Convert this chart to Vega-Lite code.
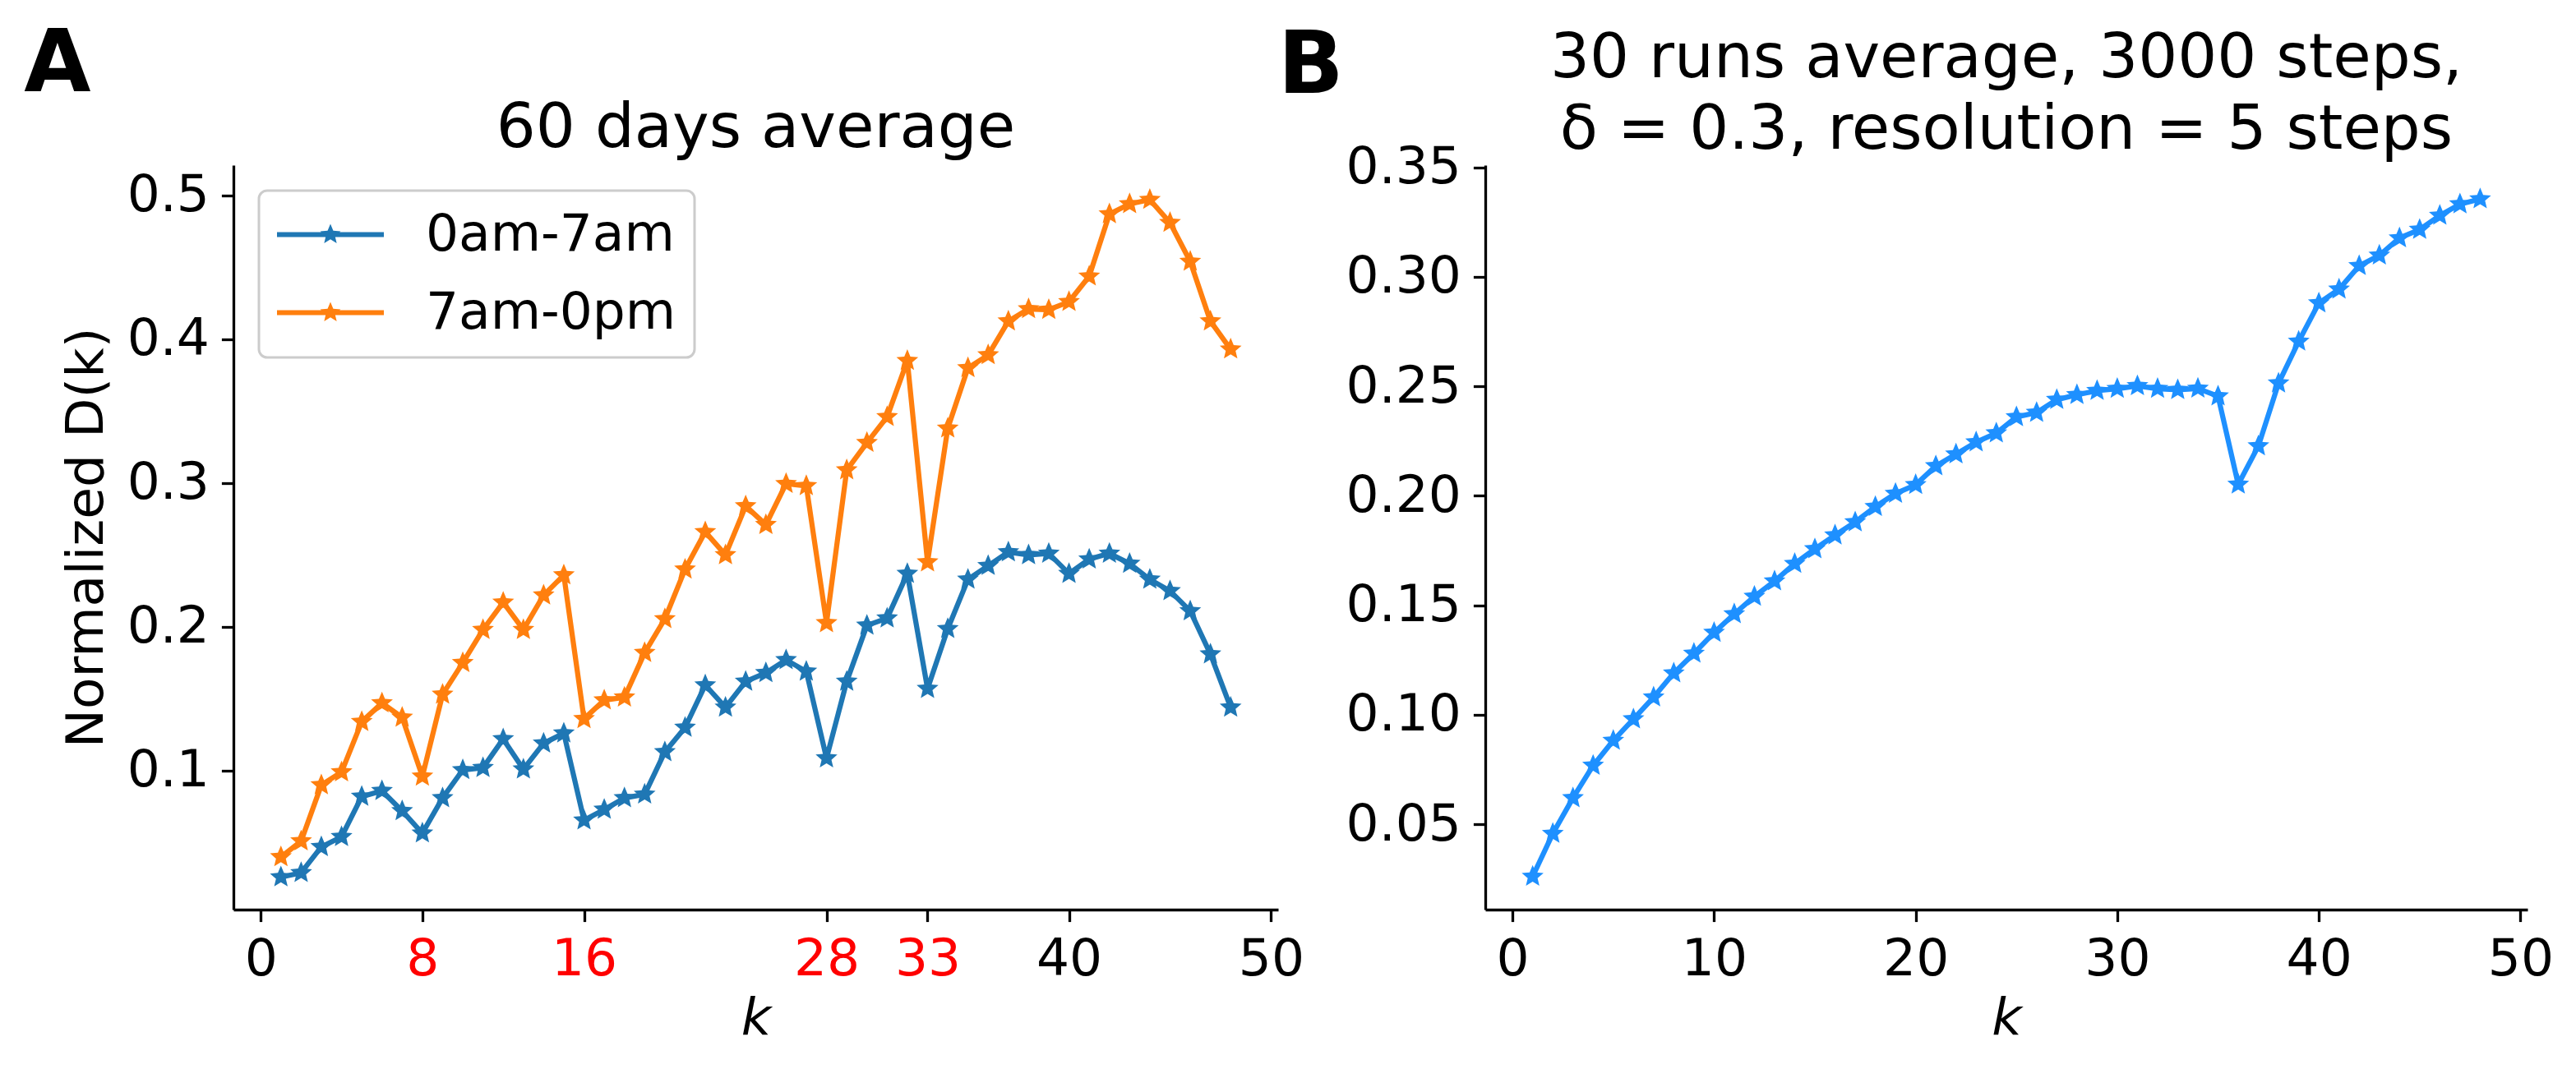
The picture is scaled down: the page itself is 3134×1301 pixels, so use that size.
{
  "$schema": "https://vega.github.io/schema/vega-lite/v6.json",
  "background": "white",
  "autosize": {"type": "pad"},
  "padding": {"left": 29, "top": 26, "right": 5, "bottom": 5},
  "spacing": -33,
  "config": {
    "font": "DejaVu Sans",
    "view": {"stroke": null},
    "title": {"font": "DejaVu Sans", "color": "black", "fontWeight": "normal"},
    "axis": {
      "grid": false,
      "domainColor": "black",
      "domainWidth": 3.3,
      "tickColor": "black",
      "tickWidth": 3.3,
      "tickSize": 14.6,
      "labelFont": "DejaVu Sans",
      "labelFontSize": 63,
      "labelColor": "black",
      "titleFont": "DejaVu Sans",
      "titleFontSize": 63,
      "titleFontWeight": "normal",
      "titleColor": "black",
      "labelFlush": false,
      "labelOverlap": false
    },
    "axisX": {"labelPadding": 14.5, "titlePadding": 9},
    "axisY": {"labelPadding": 15, "titlePadding": 17},
    "legend": {"strokeWidth": 3}
  },
  "datasets": {
    "left": [
      {"k": 1, "D": 0.026, "series": "0am-7am"}, {"k": 2, "D": 0.029, "series": "0am-7am"}, {"k": 3, "D": 0.047, "series": "0am-7am"}, {"k": 4, "D": 0.054, "series": "0am-7am"},
      {"k": 5, "D": 0.082, "series": "0am-7am"}, {"k": 6, "D": 0.086, "series": "0am-7am"}, {"k": 7, "D": 0.072, "series": "0am-7am"}, {"k": 8, "D": 0.0565, "series": "0am-7am"},
      {"k": 9, "D": 0.081, "series": "0am-7am"}, {"k": 10, "D": 0.1005, "series": "0am-7am"}, {"k": 11, "D": 0.102, "series": "0am-7am"}, {"k": 12, "D": 0.122, "series": "0am-7am"},
      {"k": 13, "D": 0.101, "series": "0am-7am"}, {"k": 14, "D": 0.119, "series": "0am-7am"}, {"k": 15, "D": 0.126, "series": "0am-7am"}, {"k": 16, "D": 0.0655, "series": "0am-7am"},
      {"k": 17, "D": 0.073, "series": "0am-7am"}, {"k": 18, "D": 0.081, "series": "0am-7am"}, {"k": 19, "D": 0.0835, "series": "0am-7am"}, {"k": 20, "D": 0.113, "series": "0am-7am"},
      {"k": 21, "D": 0.130, "series": "0am-7am"}, {"k": 22, "D": 0.1595, "series": "0am-7am"}, {"k": 23, "D": 0.144, "series": "0am-7am"}, {"k": 24, "D": 0.162, "series": "0am-7am"},
      {"k": 25, "D": 0.168, "series": "0am-7am"}, {"k": 26, "D": 0.177, "series": "0am-7am"}, {"k": 27, "D": 0.169, "series": "0am-7am"}, {"k": 28, "D": 0.1087, "series": "0am-7am"},
      {"k": 29, "D": 0.162, "series": "0am-7am"}, {"k": 30, "D": 0.201, "series": "0am-7am"}, {"k": 31, "D": 0.206, "series": "0am-7am"}, {"k": 32, "D": 0.237, "series": "0am-7am"},
      {"k": 33, "D": 0.157, "series": "0am-7am"}, {"k": 34, "D": 0.1986, "series": "0am-7am"}, {"k": 35, "D": 0.233, "series": "0am-7am"}, {"k": 36, "D": 0.2425, "series": "0am-7am"},
      {"k": 37, "D": 0.252, "series": "0am-7am"}, {"k": 38, "D": 0.250, "series": "0am-7am"}, {"k": 39, "D": 0.251, "series": "0am-7am"}, {"k": 40, "D": 0.237, "series": "0am-7am"},
      {"k": 41, "D": 0.247, "series": "0am-7am"}, {"k": 42, "D": 0.251, "series": "0am-7am"}, {"k": 43, "D": 0.244, "series": "0am-7am"}, {"k": 44, "D": 0.233, "series": "0am-7am"},
      {"k": 45, "D": 0.225, "series": "0am-7am"}, {"k": 46, "D": 0.211, "series": "0am-7am"}, {"k": 47, "D": 0.181, "series": "0am-7am"}, {"k": 48, "D": 0.144, "series": "0am-7am"},
      {"k": 1, "D": 0.040, "series": "7am-0pm"}, {"k": 2, "D": 0.051, "series": "7am-0pm"}, {"k": 3, "D": 0.090, "series": "7am-0pm"}, {"k": 4, "D": 0.099, "series": "7am-0pm"},
      {"k": 5, "D": 0.134, "series": "7am-0pm"}, {"k": 6, "D": 0.147, "series": "7am-0pm"}, {"k": 7, "D": 0.137, "series": "7am-0pm"}, {"k": 8, "D": 0.096, "series": "7am-0pm"},
      {"k": 9, "D": 0.153, "series": "7am-0pm"}, {"k": 10, "D": 0.175, "series": "7am-0pm"}, {"k": 11, "D": 0.198, "series": "7am-0pm"}, {"k": 12, "D": 0.217, "series": "7am-0pm"},
      {"k": 13, "D": 0.198, "series": "7am-0pm"}, {"k": 14, "D": 0.222, "series": "7am-0pm"}, {"k": 15, "D": 0.236, "series": "7am-0pm"}, {"k": 16, "D": 0.136, "series": "7am-0pm"},
      {"k": 17, "D": 0.149, "series": "7am-0pm"}, {"k": 18, "D": 0.151, "series": "7am-0pm"}, {"k": 19, "D": 0.182, "series": "7am-0pm"}, {"k": 20, "D": 0.2055, "series": "7am-0pm"},
      {"k": 21, "D": 0.240, "series": "7am-0pm"}, {"k": 22, "D": 0.266, "series": "7am-0pm"}, {"k": 23, "D": 0.250, "series": "7am-0pm"}, {"k": 24, "D": 0.284, "series": "7am-0pm"},
      {"k": 25, "D": 0.271, "series": "7am-0pm"}, {"k": 26, "D": 0.2995, "series": "7am-0pm"}, {"k": 27, "D": 0.298, "series": "7am-0pm"}, {"k": 28, "D": 0.2027, "series": "7am-0pm"},
      {"k": 29, "D": 0.309, "series": "7am-0pm"}, {"k": 30, "D": 0.328, "series": "7am-0pm"}, {"k": 31, "D": 0.346, "series": "7am-0pm"}, {"k": 32, "D": 0.385, "series": "7am-0pm"},
      {"k": 33, "D": 0.245, "series": "7am-0pm"}, {"k": 34, "D": 0.338, "series": "7am-0pm"}, {"k": 35, "D": 0.380, "series": "7am-0pm"}, {"k": 36, "D": 0.389, "series": "7am-0pm"},
      {"k": 37, "D": 0.4125, "series": "7am-0pm"}, {"k": 38, "D": 0.421, "series": "7am-0pm"}, {"k": 39, "D": 0.4205, "series": "7am-0pm"}, {"k": 40, "D": 0.426, "series": "7am-0pm"},
      {"k": 41, "D": 0.4437, "series": "7am-0pm"}, {"k": 42, "D": 0.487, "series": "7am-0pm"}, {"k": 43, "D": 0.494, "series": "7am-0pm"}, {"k": 44, "D": 0.497, "series": "7am-0pm"},
      {"k": 45, "D": 0.481, "series": "7am-0pm"}, {"k": 46, "D": 0.454, "series": "7am-0pm"}, {"k": 47, "D": 0.4125, "series": "7am-0pm"}, {"k": 48, "D": 0.393, "series": "7am-0pm"}
    ],
    "right": [
      {"k": 1, "D": 0.0261}, {"k": 2, "D": 0.0457}, {"k": 3, "D": 0.062}, {"k": 4, "D": 0.0768}, {"k": 5, "D": 0.0882}, {"k": 6, "D": 0.098},
      {"k": 7, "D": 0.108}, {"k": 8, "D": 0.119}, {"k": 9, "D": 0.128}, {"k": 10, "D": 0.1375}, {"k": 11, "D": 0.146}, {"k": 12, "D": 0.154},
      {"k": 13, "D": 0.161}, {"k": 14, "D": 0.169}, {"k": 15, "D": 0.1757}, {"k": 16, "D": 0.182}, {"k": 17, "D": 0.188}, {"k": 18, "D": 0.195},
      {"k": 19, "D": 0.201}, {"k": 20, "D": 0.205}, {"k": 21, "D": 0.2136}, {"k": 22, "D": 0.219}, {"k": 23, "D": 0.2245}, {"k": 24, "D": 0.2286},
      {"k": 25, "D": 0.236}, {"k": 26, "D": 0.238}, {"k": 27, "D": 0.2439}, {"k": 28, "D": 0.2461}, {"k": 29, "D": 0.248}, {"k": 30, "D": 0.2489},
      {"k": 31, "D": 0.2502}, {"k": 32, "D": 0.2489}, {"k": 33, "D": 0.2484}, {"k": 34, "D": 0.249}, {"k": 35, "D": 0.2455}, {"k": 36, "D": 0.2052},
      {"k": 37, "D": 0.2227}, {"k": 38, "D": 0.2514}, {"k": 39, "D": 0.2705}, {"k": 40, "D": 0.288}, {"k": 41, "D": 0.2943}, {"k": 42, "D": 0.305},
      {"k": 43, "D": 0.3098}, {"k": 44, "D": 0.3177}, {"k": 45, "D": 0.3216}, {"k": 46, "D": 0.328}, {"k": 47, "D": 0.3332}, {"k": 48, "D": 0.3355}
    ]
  },
  "hconcat": [
    {
      "title": {"text": "A", "anchor": "start", "frame": "bounds", "fontSize": 105, "fontWeight": "bold", "offset": -101, "dx": -45},
      "vconcat": [
        {
          "width": 1271,
          "height": 906,
          "title": {"text": ["", "60 days average"], "fontSize": 75.5, "lineHeight": 87, "frame": "group", "anchor": "middle", "offset": 7},
          "data": {"name": "left"},
          "encoding": {
            "x": {"field": "k", "type": "quantitative", "scale": {"domain": [-1.35, 50.35], "nice": false, "zero": false},
                  "axis": {"title": "k", "titleFontStyle": "italic", "values": [0, 8, 16, 28, 33, 40, 50],
                           "labelColor": {"condition": {"test": "indexof([8, 16, 28, 33], datum.value) >= 0", "value": "#ff0000"}, "value": "black"}}},
            "y": {"field": "D", "type": "quantitative", "scale": {"domain": [0.0034, 0.521], "nice": false, "zero": false},
                  "axis": {"title": "Normalized D(k)", "values": [0.1, 0.2, 0.3, 0.4, 0.5], "format": ".1f"}},
            "color": {"field": "series", "type": "nominal",
                      "scale": {"domain": ["0am-7am", "7am-0pm"], "range": ["#1f77b4", "#ff7f0e"]},
                      "legend": {"title": null, "orient": "top-left", "offset": 31,
                                 "symbolType": "M-1,-0.046L1,-0.046L1,0.046L-1,0.046Z M0,-0.2L0.0529,-0.0728L0.1902,-0.0618L0.0856,0.0278L0.1176,0.1618L0,0.09L-0.1176,0.1618L-0.0856,0.0278L-0.1902,-0.0618L-0.0529,-0.0728Z",
                                 "symbolSize": 16900, "symbolStrokeWidth": 0, "symbolOpacity": 1, "clipHeight": 63,
                                 "labelFontSize": 63, "labelFont": "DejaVu Sans", "labelColor": "black", "labelOffset": 51, "labelLimit": 0,
                                 "padding": 22, "rowPadding": 31, "strokeColor": "#cccccc", "fillColor": "white", "cornerRadius": 10,
                                 "encode": {"symbols": {"update": {"fill": {"scale": "color", "field": "value"}, "stroke": {"value": "transparent"}}}}}}
          },
          "layer": [
            {"mark": {"type": "line", "strokeWidth": 6.25, "strokeJoin": "round"}, "encoding": {}},
            {"mark": {"type": "point", "shape": "M0,-1L0.2645,-0.364L0.951,-0.309L0.428,0.139L0.588,0.809L0,0.45L-0.588,0.809L-0.428,0.139L-0.951,-0.309L-0.2645,-0.364Z", "filled": true, "size": 780, "opacity": 1}}
          ]
        }
      ]
    },
    {
      "title": {"text": "B", "anchor": "start", "frame": "bounds", "fontSize": 105, "fontWeight": "bold", "offset": -101, "dx": -82.5},
      "vconcat": [
        {
          "width": 1268,
          "height": 906,
          "title": {"text": ["30 runs average, 3000 steps,", "δ = 0.3, resolution = 5 steps"], "fontSize": 75.5, "lineHeight": 87, "frame": "group", "anchor": "middle", "offset": -24},
          "data": {"name": "right"},
          "encoding": {
            "x": {"field": "k", "type": "quantitative", "scale": {"domain": [-1.35, 50.35], "nice": false, "zero": false},
                  "axis": {"title": "k", "titleFontStyle": "italic", "values": [0, 10, 20, 30, 40, 50]}},
            "y": {"field": "D", "type": "quantitative", "scale": {"domain": [0.011, 0.351], "nice": false, "zero": false},
                  "axis": {"title": null, "values": [0.05, 0.10, 0.15, 0.20, 0.25, 0.30, 0.35], "format": ".2f"}}
          },
          "layer": [
            {"mark": {"type": "line", "strokeWidth": 6.25, "color": "#1e90ff", "strokeJoin": "round"}, "encoding": {}},
            {"mark": {"type": "point", "shape": "M0,-1L0.2645,-0.364L0.951,-0.309L0.428,0.139L0.588,0.809L0,0.45L-0.588,0.809L-0.428,0.139L-0.951,-0.309L-0.2645,-0.364Z", "filled": true, "size": 780, "color": "#1e90ff", "opacity": 1}}
          ]
        }
      ]
    }
  ]
}
